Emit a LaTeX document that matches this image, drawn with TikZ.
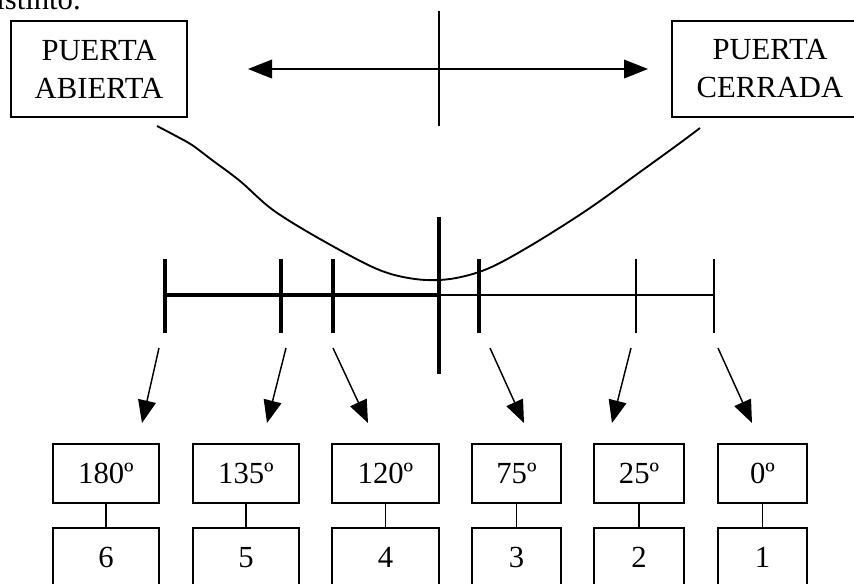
\documentclass[tikz,border=0pt]{standalone}
\usepackage{fontspec}
\setmainfont{Liberation Serif}
\usetikzlibrary{arrows.meta}
\tikzset{
  box/.style={draw=black, line width=1.4pt, align=center, inner sep=0pt, font=\fontsize{23}{28.5}\selectfont},
  doorbox/.style={box, minimum width=132pt, minimum height=72pt},
  degbox/.style={box, minimum height=44pt},
  link/.style={line width=1.2pt},
  pointer/.style={-{Triangle[length=17pt,width=13.5pt]}, line width=1.1pt},
  bothway/.style={{Triangle[length=18pt,width=14pt]}-{Triangle[length=18pt,width=14pt]}, line width=1.1pt},
  thicktick/.style={line width=2.7pt},
  thintick/.style={line width=1.7pt},
  swing/.style={line width=1.4pt, line join=round}
}
\begin{document}
\begin{tikzpicture}[x=0.75pt, y=-0.75pt]
\useasboundingbox (0,0) rectangle (854,583);
% cut text above
\node[font=\fontsize{23}{26}\selectfont, anchor=base east, inner sep=0pt] (prev) at (81,9) {distinto.};
% doors
\node[doorbox] (abierta) at (99,69) {PUERTA\\ABIERTA};
\node[doorbox, minimum width=147pt] (cerrada) at (770,69) {PUERTA\\CERRADA};
\coordinate (izq) at (248,69);
\coordinate (der) at (648,69);
\draw[bothway] (izq) -- (der);
\draw[link] (439,11) -- (439,126);
% swing curve
\draw[swing] plot[smooth, tension=0.55] coordinates {(157,126) (176,136) (192,145) (212,160) (240,181) (273,210) (320,239) (377,269) (415,279) (450,279) (487,269) (530,246) (587,210) (640,172) (680,143) (700,128)};
% scale
\draw[line width=2.6pt] (165,295) -- (439,295);
\draw[line width=2pt] (439,295) -- (714,295);
\foreach \x in {165,281,333,479}
  \draw[thicktick] (\x,259) -- (\x,333);
\draw[thicktick] (439,217) -- (439,374);
\foreach \x in {636,714}
  \draw[thintick] (\x,259) -- (\x,333);
% arrows to boxes
\foreach \i/\sx/\tx in {6/159/142, 5/286/267, 4/333/368, 3/490/524, 2/631/612, 1/718/752} {
  \coordinate (s\i) at (\sx,348);
  \coordinate (p\i) at (\tx,423);
  \draw[pointer] (s\i) -- (p\i);
}
% boxes
\foreach \i/\x/\w/\lab in {6/106/79.5/180, 5/246/79.5/135, 4/385.5/80/120, 3/516.5/67/75, 2/639/67.5/25, 1/762.5/67/0} {
  \node[degbox, minimum width=\w pt] (g\i) at (\x,473.5) {\lab º};
  \node[degbox, minimum width=\w pt] (n\i) at (\x,557.5) {\i};
  \draw[link] (g\i) -- (n\i);
}
\end{tikzpicture}
\end{document}
